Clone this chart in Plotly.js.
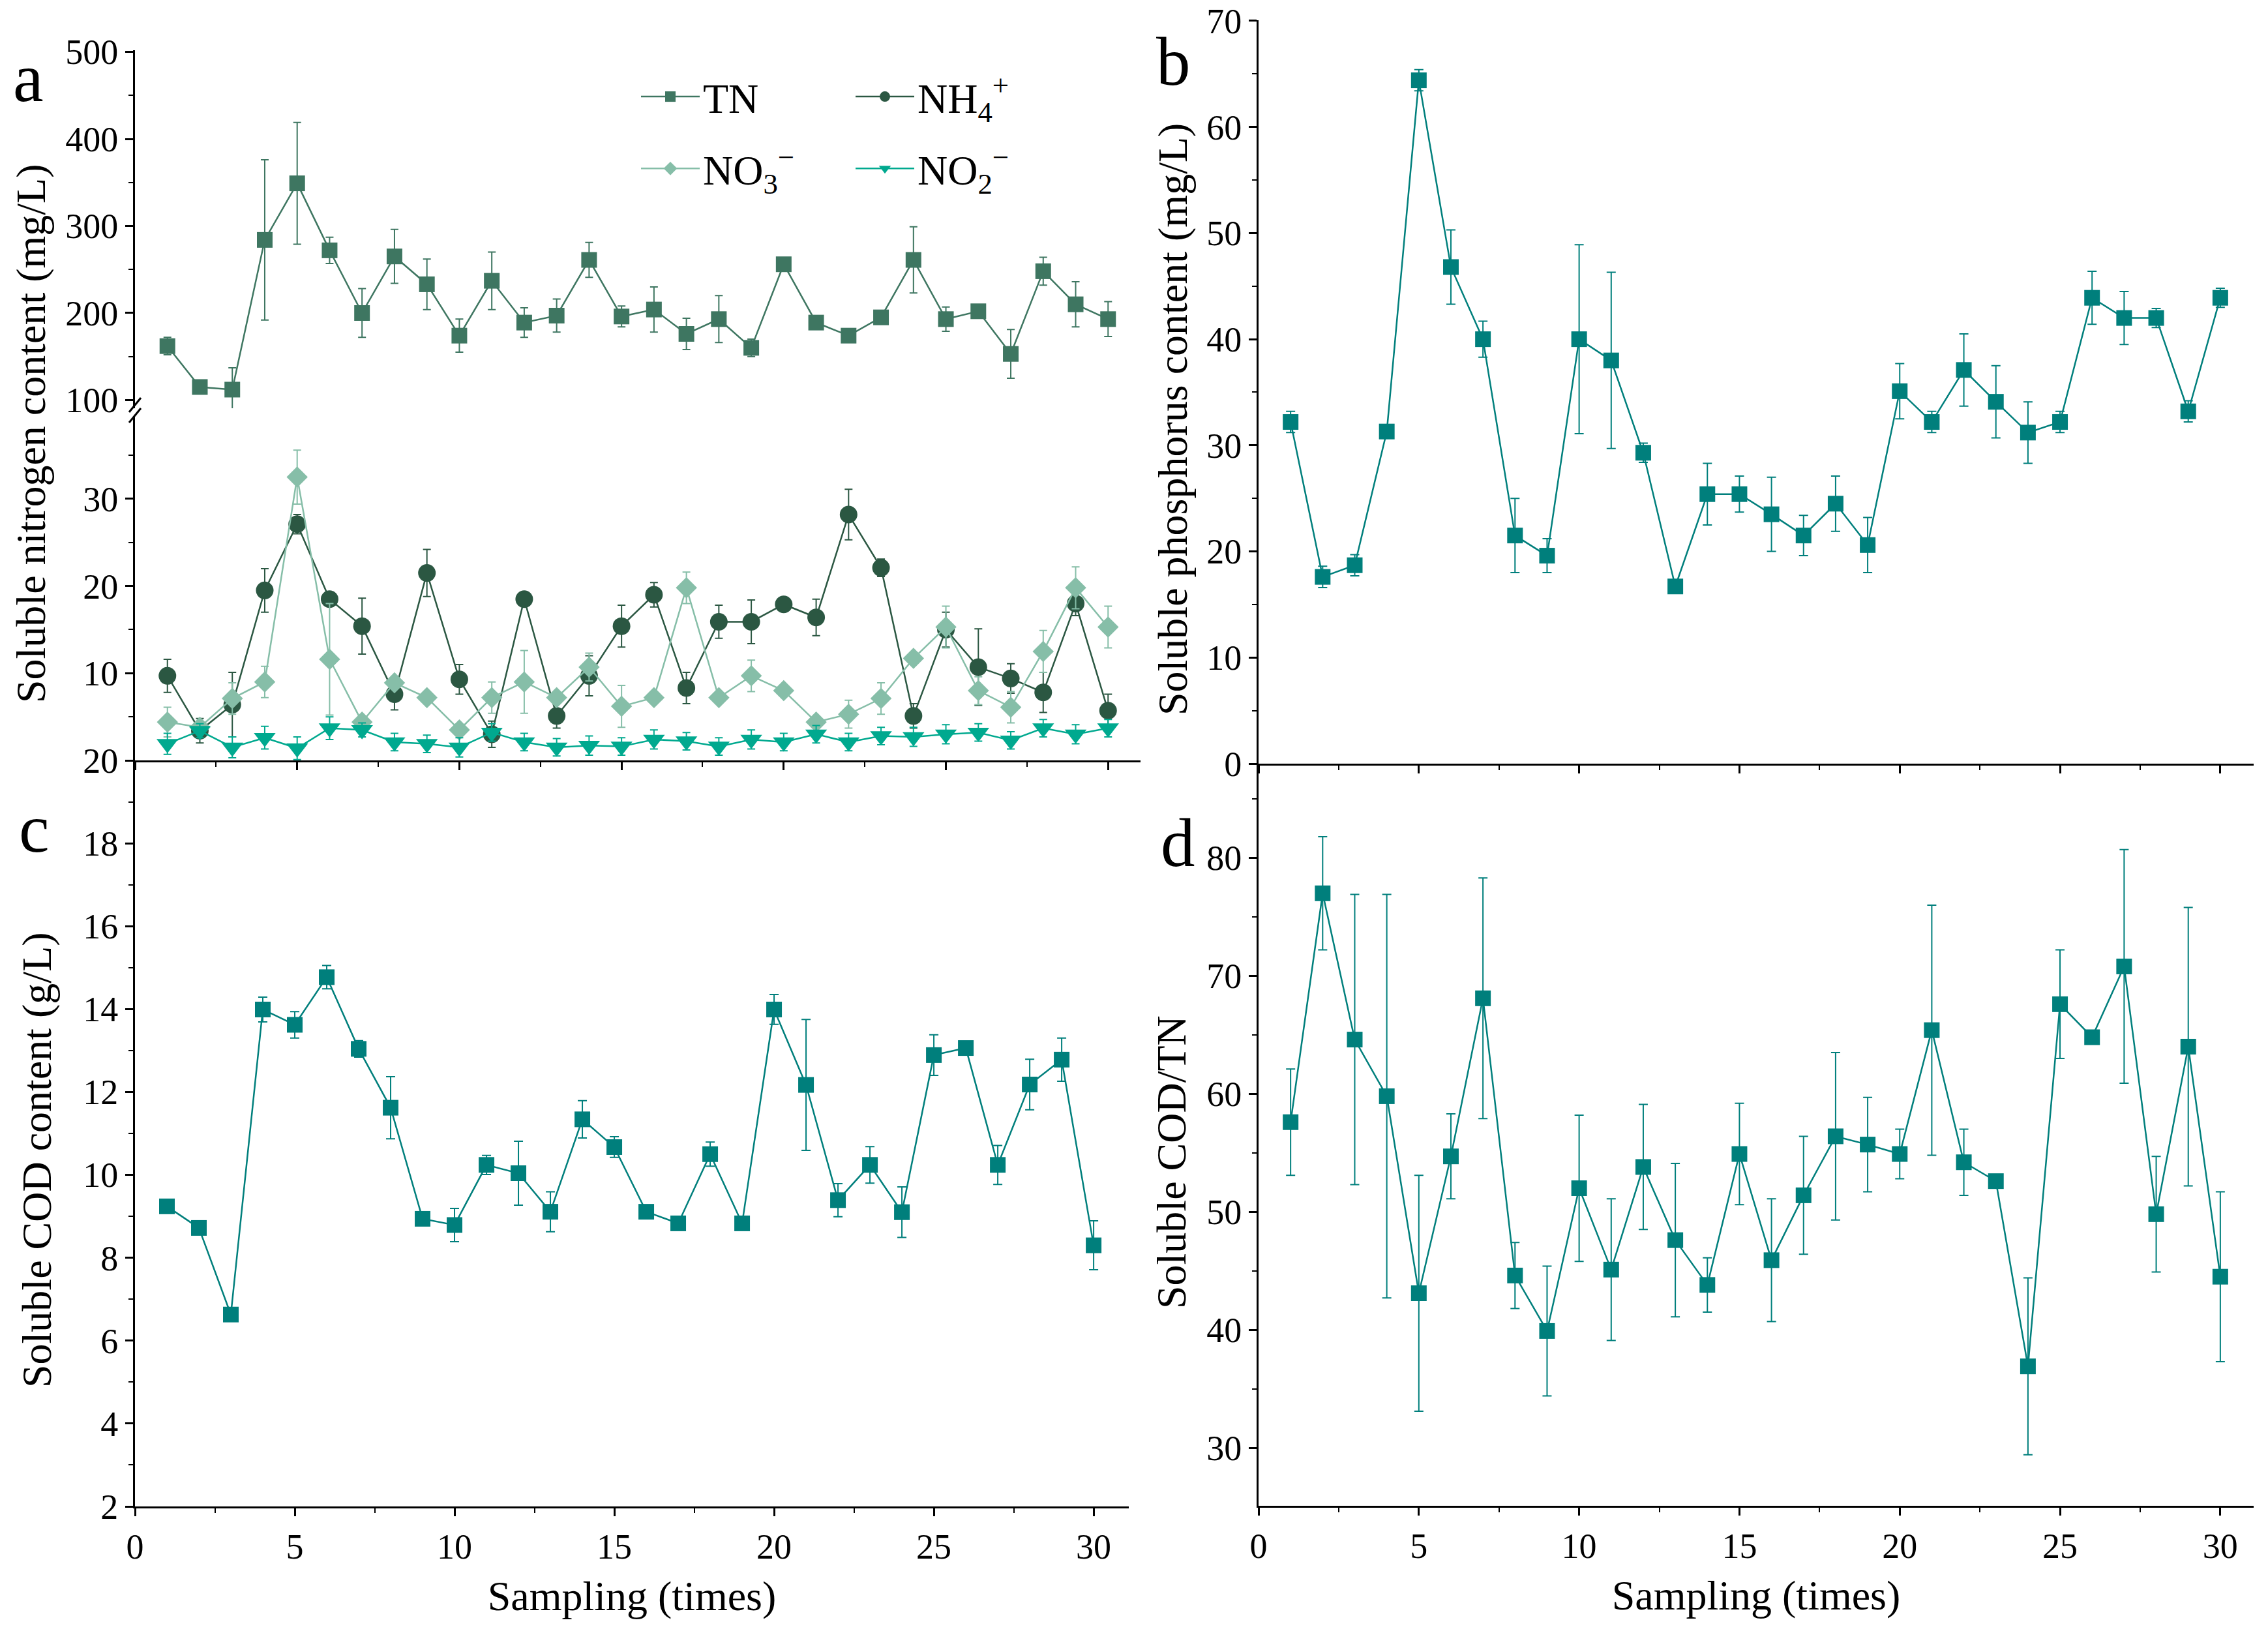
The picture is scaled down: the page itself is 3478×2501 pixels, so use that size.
<!DOCTYPE html>
<html>
<head>
<meta charset="utf-8">
<script src="https://cdn.plot.ly/plotly-3.0.1.min.js"></script>
<style>html,body{margin:0;padding:0;background:#fff;}#chart{width:3478px;height:2501px;}</style>
</head>
<body>
<div id="chart"></div>
<script>
// ---------- data ----------
const sampling = [1,2,3,4,5,6,7,8,9,10,11,12,13,14,15,16,17,18,19,20,21,22,23,24,25,26,27,28,29,30];

// panel a : soluble nitrogen (mg/L)
const tnMean  = [162,115,112,284,349,272,200,265,233,174,237,189,197,261,196,204,176,193,160,256,189,174,195,261,193,202,153,248,210,193];
const tnErr   = [10,3,25,92,70,15,28,31,29,19,33,17,19,20,12,26,18,27,10,3,0,0,0,38,14,0,28,16,26,20];
const nh4Mean = [9.7,3.4,6.4,19.5,27.1,18.5,15.4,7.6,21.5,9.3,3.0,18.5,5.1,9.7,15.4,19.0,8.3,15.9,15.9,17.9,16.4,28.2,22.1,5.1,15.0,10.7,9.4,7.8,18.0,5.7];
const nh4Err  = [1.9,1.4,3.7,2.5,1.1,0.5,3.2,1.8,2.7,1.7,1.5,0.3,1.4,2.3,2.4,1.4,1.8,1.9,2.5,0.3,2.1,2.9,1.0,1.4,2.0,4.4,1.7,2.3,1.4,1.9];
const no3Mean = [4.4,3.8,7.1,9.0,32.5,11.6,4.4,8.9,7.2,3.5,7.2,9.0,7.2,10.7,6.2,7.2,19.8,7.2,9.7,8.0,4.4,5.3,7.1,11.7,15.3,8.0,6.1,12.5,19.8,15.3];
const no3Err  = [1.7,0.5,1.8,1.8,3.1,6.4,0.5,0.5,0.4,0.4,1.8,3.6,0.5,1.6,2.4,0.5,1.8,0.4,1.8,0.4,0.5,1.6,1.8,0.5,2.4,1.6,1.8,2.4,2.4,2.4];
const no2Mean = [1.9,3.4,1.5,2.6,1.4,3.7,3.5,2.1,1.9,1.5,3.2,2.1,1.5,1.7,1.6,2.4,2.2,1.6,2.4,2.1,3.0,2.1,2.8,2.7,3.0,3.2,2.3,3.7,3.0,3.7];
const no2Err  = [1.2,0.8,1.2,1.3,1.3,1.3,0.8,1.0,1.0,1.1,1.0,1.0,1.0,1.1,1.0,1.1,1.0,1.0,1.1,1.0,1.0,1.0,1.0,1.1,1.1,1.0,1.0,1.0,1.1,1.0];

// panel b : soluble phosphorus (mg/L)
const pMean = [32.2,17.6,18.7,31.3,64.4,46.8,40.0,21.5,19.6,40.0,38.0,29.3,16.7,25.4,25.4,23.5,21.5,24.5,20.6,35.1,32.2,37.1,34.1,31.2,32.2,43.9,42.0,42.0,33.2,43.9];
const pErr  = [1.0,1.0,1.0,0,1.0,3.5,1.7,3.5,1.6,8.9,8.3,0.9,0,2.9,1.7,3.5,1.9,2.6,2.6,2.6,1.0,3.4,3.4,2.9,1.0,2.5,2.5,0.9,1.0,0.9];

// panel c : soluble COD (g/L)
const codMean = [9.24,8.72,6.63,13.99,13.62,14.77,13.04,11.62,8.94,8.79,10.24,10.04,9.11,11.34,10.67,9.11,8.83,10.50,8.83,13.99,12.17,9.39,10.24,9.10,12.89,13.06,10.24,12.18,12.78,8.30];
const codErr  = [0,0,0,0.30,0.32,0.28,0.20,0.75,0,0.40,0.23,0.77,0.48,0.45,0.25,0,0,0.29,0,0.36,1.58,0.40,0.44,0.61,0.49,0,0.47,0.61,0.52,0.59];

// panel d : soluble COD/TN
const ratioMean = [57.6,77.0,64.6,59.8,43.1,54.7,68.1,44.6,39.9,52.0,45.1,53.8,47.6,43.8,54.9,45.9,51.4,56.4,55.7,54.9,65.4,54.2,52.6,36.9,67.6,64.8,70.8,49.8,64.0,44.5];
const ratioErr  = [4.5,4.8,12.3,17.1,10.0,3.6,10.2,2.8,5.5,6.2,6.0,5.3,6.5,2.3,4.3,5.2,5.0,7.1,4.0,2.1,10.6,2.8,0,7.5,4.6,0,9.9,4.9,11.8,7.2];

// tick values
const xTicks = [0,5,10,15,20,25,30];
const nLowTicks = [10,20,30];
const nUpTicks = [100,200,300,400,500];
const ratioTicks = [30,40,50,60,70,80];

// ---------- styling ----------
const W = 3478, H = 2501;
const fx = p => p / W;
const fy = p => 1 - p / H;
const FONT = 'Liberation Serif, Times New Roman, serif';
const cTN = '#3e7661', cNH4 = '#2b5742', cNO3 = '#86bea8', cNO2 = '#00a98f', cTeal = '#007f7c';

function ser(xa, ya, y, err, color, symbol, size, name, legend, group, showleg) {
  return {
    type: 'scatter', mode: 'lines+markers', x: sampling, y: y,
    xaxis: xa, yaxis: ya, name: name, legend: legend, legendgroup: group,
    showlegend: showleg, cliponaxis: false,
    line: {color: color, width: 2.5},
    marker: {symbol: symbol, size: size, color: color},
    error_y: {type: 'data', array: err, visible: true, color: color, thickness: 2, width: 6}
  };
}

const traces = [
  ser('x', 'y2', tnMean, tnErr, cTN, 'square', 24, 'TN', 'legend', 'g1', true),
  ser('x', 'y', nh4Mean, nh4Err, cNH4, 'circle', 27, 'NH<sub>4</sub><sup>+</sup>', 'legend2', 'g2', true),
  ser('x', 'y', no3Mean, no3Err, cNO3, 'diamond', 25, 'NO<sub>3</sub><sup>\u2212</sup>', 'legend', 'g3', true),
  ser('x', 'y', no2Mean, no2Err, cNO2, 'triangle-down', 29, 'NO<sub>2</sub><sup>\u2212</sup>', 'legend2', 'g4', true),
  ser('x4', 'y4', pMean, pErr, cTeal, 'square', 24, 'P', 'legend', 'g5', false),
  ser('x3', 'y3', codMean, codErr, cTeal, 'square', 24, 'COD', 'legend', 'g6', false),
  ser('x5', 'y5', ratioMean, ratioErr, cTeal, 'square', 24, 'COD/TN', 'legend', 'g7', false)
];
traces.forEach(t => { t.error_y.width = (t.xaxis === 'x') ? 6 : 7; });

function ax(extra) {
  return Object.assign({
    showline: true, linecolor: 'black', linewidth: 3,
    ticks: 'outside', ticklen: 12, tickwidth: 3, tickcolor: 'black',
    showgrid: false, zeroline: false, fixedrange: true,
    tickfont: {family: FONT, size: 54, color: 'black'}
  }, extra);
}
const minorX = {dtick: 2.5, tick0: 0, ticks: 'outside', ticklen: 7, tickwidth: 2, tickcolor: 'black'};
const titleFont = {family: FONT, size: 64, color: 'black'};

const layout = {
  width: W, height: H,
  margin: {l: 0, r: 0, t: 0, b: 0},
  paper_bgcolor: 'white', plot_bgcolor: 'rgba(0,0,0,0)',
  font: {family: FONT, size: 54, color: 'black'},
  xaxis: ax({domain: [fx(207), fx(1749)], range: [0, 31.0], anchor: 'y',
             tickmode: 'array', tickvals: xTicks, showticklabels: false, minor: minorX}),
  yaxis: ax({domain: [fy(1166), fy(638)], range: [0, 39.5], anchor: 'x',
             tickmode: 'array', tickvals: nLowTicks,
             minor: {tickmode: 'array', tickvals: [5,15,25,35], ticks: 'outside', ticklen: 7, tickwidth: 2, tickcolor: 'black'}}),
  yaxis2: ax({domain: [fy(626), fy(77)], range: [90.6, 501.9], anchor: 'x',
             tickmode: 'array', tickvals: nUpTicks,
             minor: {tickmode: 'array', tickvals: [150,250,350,450], ticks: 'outside', ticklen: 7, tickwidth: 2, tickcolor: 'black'}}),
  xaxis3: ax({domain: [fx(207), fx(1731)], range: [0, 31.1], anchor: 'y3',
             tickmode: 'array', tickvals: xTicks, minor: minorX,
             title: {text: 'Sampling (times)', font: titleFont, standoff: 24}}),
  yaxis3: ax({domain: [fy(2310), fy(1166)], range: [2, 20], anchor: 'x3',
             dtick: 2, tick0: 0, minor: {dtick: 1, tick0: 0, ticks: 'outside', ticklen: 7, tickwidth: 2, tickcolor: 'black'}}),
  xaxis4: ax({domain: [fx(1930), fx(3456)], range: [0, 31.04], anchor: 'y4',
             tickmode: 'array', tickvals: xTicks, showticklabels: false, minor: minorX}),
  yaxis4: ax({domain: [fy(1171), fy(31)], range: [0, 70.06], anchor: 'x4',
             dtick: 10, tick0: 0, minor: {dtick: 5, tick0: 0, ticks: 'outside', ticklen: 7, tickwidth: 2, tickcolor: 'black'}}),
  xaxis5: ax({domain: [fx(1930), fx(3456)], range: [0, 31.04], anchor: 'y5',
             tickmode: 'array', tickvals: xTicks, minor: minorX,
             title: {text: 'Sampling (times)', font: titleFont, standoff: 24}}),
  yaxis5: ax({domain: [fy(2309), fy(1169)], range: [25.08, 88.1], anchor: 'x5',
             tickmode: 'array', tickvals: ratioTicks,
             minor: {tickmode: 'array', tickvals: [35,45,55,65,75,85], ticks: 'outside', ticklen: 7, tickwidth: 2, tickcolor: 'black'}}),
  legend: {x: fx(978), y: fy(100), xanchor: 'left', yanchor: 'top',
           bgcolor: 'rgba(0,0,0,0)', borderwidth: 0, itemwidth: 90,
           tracegroupgap: 24, traceorder: 'grouped',
           font: {family: FONT, size: 64, color: 'black'}},
  legend2: {x: fx(1307), y: fy(100), xanchor: 'left', yanchor: 'top',
           bgcolor: 'rgba(0,0,0,0)', borderwidth: 0, itemwidth: 90,
           tracegroupgap: 24, traceorder: 'grouped',
           font: {family: FONT, size: 64, color: 'black'}},
  shapes: [
    {type: 'line', xref: 'paper', yref: 'paper', x0: fx(198), y0: fy(632), x1: fx(216), y1: fy(610), line: {color: 'black', width: 3}},
    {type: 'line', xref: 'paper', yref: 'paper', x0: fx(198), y0: fy(648), x1: fx(216), y1: fy(626), line: {color: 'black', width: 3}}
  ],
  annotations: [
    {text: 'a', x: fx(43), y: fy(119), xref: 'paper', yref: 'paper', xanchor: 'center', yanchor: 'middle', showarrow: false, font: {family: FONT, size: 105, color: 'black'}},
    {text: 'b', x: fx(1799), y: fy(95), xref: 'paper', yref: 'paper', xanchor: 'center', yanchor: 'middle', showarrow: false, font: {family: FONT, size: 105, color: 'black'}},
    {text: 'c', x: fx(52), y: fy(1270), xref: 'paper', yref: 'paper', xanchor: 'center', yanchor: 'middle', showarrow: false, font: {family: FONT, size: 105, color: 'black'}},
    {text: 'd', x: fx(1806), y: fy(1292), xref: 'paper', yref: 'paper', xanchor: 'center', yanchor: 'middle', showarrow: false, font: {family: FONT, size: 105, color: 'black'}},
    {text: 'Soluble nitrogen content (mg/L)', textangle: -90, x: fx(48), y: fy(665), xref: 'paper', yref: 'paper', xanchor: 'center', yanchor: 'middle', showarrow: false, font: titleFont},
    {text: 'Soluble phosphorus content (mg/L)', textangle: -90, x: fx(1799), y: fy(643), xref: 'paper', yref: 'paper', xanchor: 'center', yanchor: 'middle', showarrow: false, font: titleFont},
    {text: 'Soluble COD content (g/L)', textangle: -90, x: fx(56), y: fy(1779), xref: 'paper', yref: 'paper', xanchor: 'center', yanchor: 'middle', showarrow: false, font: titleFont},
    {text: 'Soluble COD/TN', textangle: -90, x: fx(1796), y: fy(1782), xref: 'paper', yref: 'paper', xanchor: 'center', yanchor: 'middle', showarrow: false, font: titleFont}
  ]
};

Plotly.newPlot('chart', traces, layout, {displayModeBar: false, staticPlot: true});
</script>
</body>
</html>
